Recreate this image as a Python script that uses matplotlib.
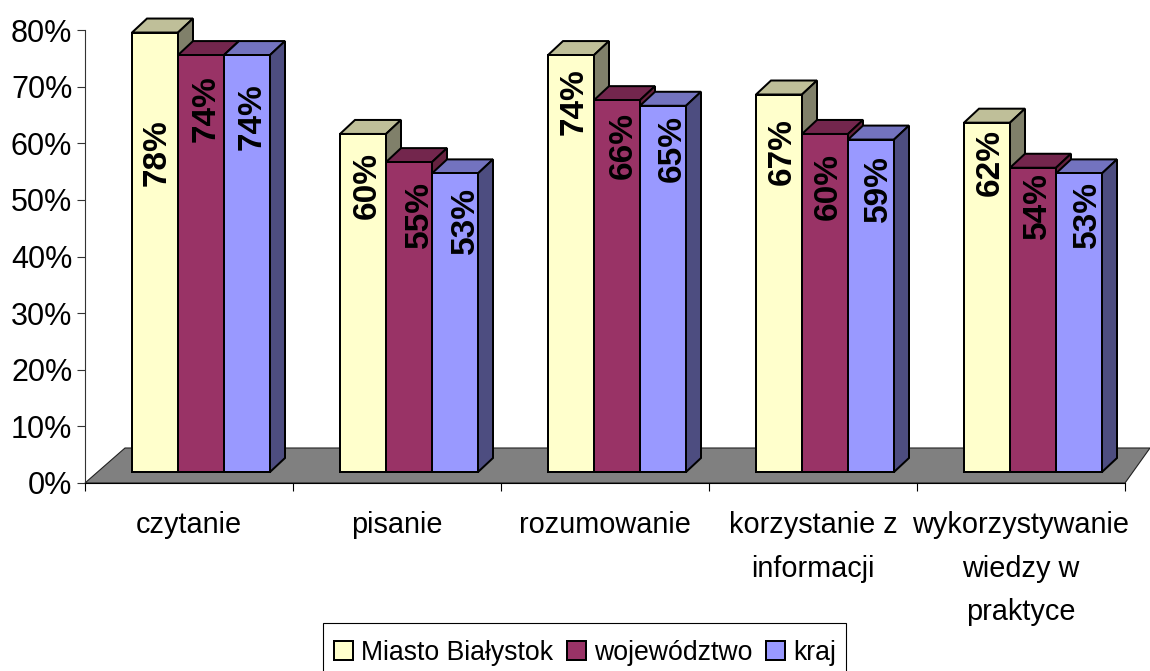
import matplotlib
matplotlib.use('Agg')
import matplotlib.pyplot as plt
from matplotlib.patches import Polygon, Patch, Rectangle

plt.rcParams['font.family'] = ['Liberation Sans', 'DejaVu Sans']

categories = ['czytanie', 'pisanie', 'rozumowanie', 'korzystanie z\ninformacji',
              'wykorzystywanie\nwiedzy w\npraktyce']
series_names = ['Miasto Białystok', 'województwo', 'kraj']
miasto = [78, 60, 74, 67, 62]
wojewodztwo = [74, 55, 66, 60, 54]
kraj = [74, 53, 65, 59, 53]
yticks = [0, 10, 20, 30, 40, 50, 60, 70, 80]

# face, top, side
colors = [('#FFFFCC', '#BFBF99', '#80806A'),
          ('#993366', '#73264D', '#66223F'),
          ('#9999FF', '#7373BF', '#4D4D80')]

# hand placed data labels in the original, pixels from the bar top / bar centre
label_drop = [[120, 52, 47, 57, 40], [54, 52, 45, 53, 38], [62, 47, 43, 49, 41]]
label_dx = [[2, 4, 3, 3, 3], [5, 10, 6, 3, 4], [5, 10, 9, 7, 8]]

W, H = 1150, 671
AX_L, AX_R, AX_B, AX_T = 85, 1125, 483, 30
PX_X = 5 / (AX_R - AX_L)
PX_Y = 80 / (AX_B - AX_T)
BAR_W = 46 * PX_X
BAR_START = 47 * PX_X
BASE = 11 * PX_Y
DX, DY = 15 * PX_X, 14 * PX_Y
FRONT_SCALE = 0.995
EDGE = 2.0 * 0.72

fig = plt.figure(figsize=(W / 100, H / 100), dpi=100)
ax = fig.add_axes([AX_L / W, 1 - AX_B / H, (AX_R - AX_L) / W, (AX_B - AX_T) / H])
ax.set_xlim(0, 5)
ax.set_ylim(0, 80)
for s in ['top', 'right']:
    ax.spines[s].set_visible(False)
ax.spines['left'].set_color('#333333')
ax.spines['bottom'].set_color('black')
ax.spines['left'].set_linewidth(0.8)
ax.spines['bottom'].set_linewidth(0.8)

# floor
ax.add_patch(Polygon([(0, 0), (5, 0), (5 + 25 * PX_X, 35 * PX_Y), (40 * PX_X, 35 * PX_Y)],
                     closed=True, facecolor='#808080', edgecolor='#222222',
                     linewidth=0.8, clip_on=False, zorder=1))

for j, vals in enumerate([miasto, wojewodztwo, kraj]):
    face, top, side = colors[j]
    for i, v in enumerate(vals):
        x0 = i + BAR_START + j * BAR_W
        x1 = x0 + BAR_W
        y1 = BASE + v * FRONT_SCALE
        z = 2 + j
        ax.add_patch(Polygon([(x0, y1), (x1, y1), (x1 + DX, y1 + DY), (x0 + DX, y1 + DY)],
                             facecolor=top, edgecolor='black', linewidth=EDGE,
                             clip_on=False, zorder=z))
        ax.add_patch(Polygon([(x1, BASE), (x1 + DX, BASE + DY), (x1 + DX, y1 + DY), (x1, y1)],
                             facecolor=side, edgecolor='black', linewidth=EDGE,
                             clip_on=False, zorder=z))
        ax.bar(x0, y1 - BASE, BAR_W, bottom=BASE, align='edge', color=face,
               edgecolor='black', linewidth=EDGE, clip_on=False, zorder=z)
        ax.annotate(f'{v}%', (x0 + BAR_W / 2, y1),
                    xytext=(label_dx[j][i], -label_drop[j][i]), textcoords='offset pixels',
                    rotation=90, ha='center', va='center', fontsize=24, fontweight='bold',
                    color='black', zorder=10, annotation_clip=False)

ax.set_yticks(yticks)
ax.set_yticklabels([f'{t}%' for t in yticks], fontsize=22)
ax.set_xticks(range(6))
ax.set_xticklabels([])
ax.set_xticks([i + 0.5 for i in range(5)], minor=True)
ax.set_xticklabels(categories, minor=True, fontsize=20.8, linespacing=1.72, ha='center')
ax.tick_params(axis='y', length=8 * 0.72, width=0.8, pad=3.4, color='#333333')
ax.tick_params(axis='x', which='major', length=8 * 0.72, width=0.8)
ax.tick_params(axis='x', which='minor', length=0, pad=20)

# legend box runs off the bottom of the picture in the original
fig.add_artist(Rectangle((323 / W, -0.01), 523 / W, 1 - 623 / H + 0.01,
                         transform=fig.transFigure, facecolor='white',
                         edgecolor='black', linewidth=0.8))
handles = [Patch(facecolor=c[0], edgecolor='black', linewidth=EDGE) for c in colors]
leg = fig.legend(handles, series_names, ncol=3, loc='upper left',
                 bbox_to_anchor=(323 / W, 1 - 629 / H), bbox_transform=fig.transFigure,
                 fontsize=19.2, frameon=False, borderaxespad=0, borderpad=0.42,
                 handlelength=0.72, handleheight=0.72, handletextpad=0.3,
                 columnspacing=0.5)

fig.savefig('out.png', dpi=100)
